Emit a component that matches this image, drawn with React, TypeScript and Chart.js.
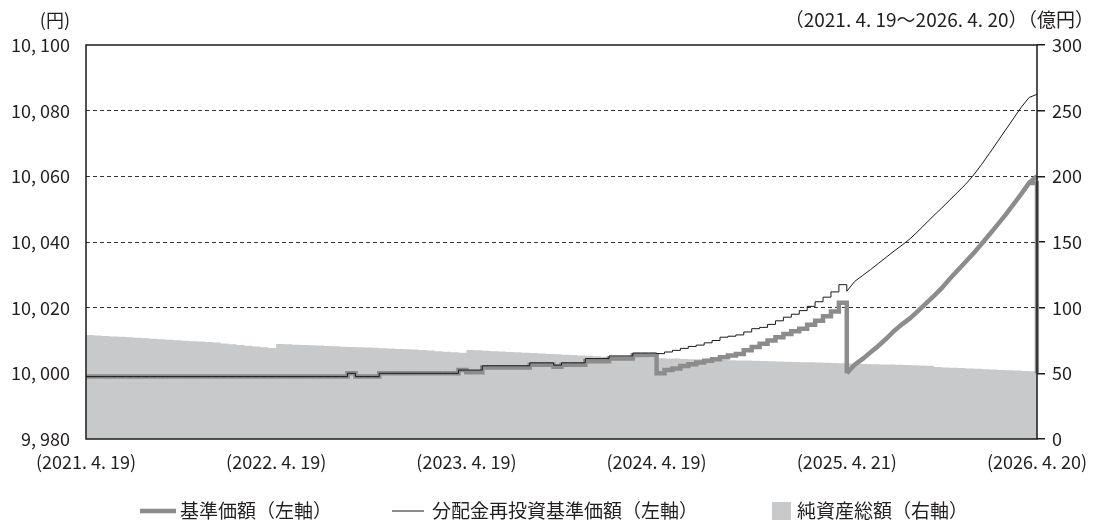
import React, { useEffect, useRef } from 'react';
import { Chart, registerables } from 'chart.js';

Chart.register(...registerables);

const FONT = "'Noto Sans CJK JP', 'Noto Sans', sans-serif";
const TEXT = '#231f20';

// semi-monthly categories from 2021-04-19 to 2026-04-20 (121 points)
const categories: string[] = Array.from({ length: 121 }, (_, i) => {
  const m = Math.floor(i / 2) + 3;
  const y = 2021 + Math.floor(m / 12);
  const mo = (m % 12) + 1;
  return `${y}/${mo}${i % 2 === 0 ? '前半' : '後半'}`;
});

const xTickLabels = ['(2021. 4. 19)', '(2022. 4. 19)', '(2023. 4. 19)', '(2024. 4. 19)', '(2025. 4. 21)', '(2026. 4. 20)'];

// index of the 2025.4.21 settlement (after it the daily movement is almost continuous)
const SPLIT = 96;

// 基準価額（円）
const navBase: number[] = [
  9999, 9999, 9999, 9999, 9999, 9999, 9999, 9999, 9999, 9999, 9999, 9999, 9999, 9999, 9999, 9999,
  9999, 9999, 9999, 9999, 9999, 9999, 9999, 9999, 9999, 9999, 9999, 9999, 9999, 9999, 9999, 9999,
  9999, 10000, 9999, 9999, 9999,
  10000, 10000, 10000, 10000, 10000, 10000, 10000, 10000, 10000, 10000,
  10001, 10000.3, 10000.3,
  10001.8, 10001.8, 10001.8, 10001.8, 10001.8, 10001.8,
  10002.6, 10002.6, 10002.6, 10002.0, 10002.6, 10002.6, 10002.6,
  10003.7, 10003.7, 10003.7, 10004.5, 10004.5, 10004.5, 10005.5, 10005.5, 10005.5,
  10000.0, 10001.0, 10001.5, 10002.2, 10002.8, 10003.3, 10003.8, 10004.3, 10004.9, 10005.4,
  10005.9, 10007.0, 10008.0, 10009.0, 10010.0, 10011.0, 10012.0, 10012.8, 10013.6, 10014.8,
  10016.0, 10017.4, 10018.8, 10021.5,
  10000.0, 10002.6, 10004.4, 10006.4, 10008.4, 10010.6, 10013.0, 10015.0, 10016.8, 10019.0,
  10021.3, 10023.6, 10026.0, 10028.8, 10031.4, 10034.0, 10036.6, 10039.4, 10042.3, 10045.2,
  10048.2, 10051.4, 10054.6, 10058.0,
  10060.0,
];

// 基準価額 on 2026.4.20 after the settlement
const navBaseFinal = 10000.0;

// 分配金再投資基準価額（円）
const navReinvest: number[] = [
  9999, 9999, 9999, 9999, 9999, 9999, 9999, 9999, 9999, 9999, 9999, 9999, 9999, 9999, 9999, 9999,
  9999, 9999, 9999, 9999, 9999, 9999, 9999, 9999, 9999, 9999, 9999, 9999, 9999, 9999, 9999, 9999,
  9999, 10000, 9999, 9999, 9999,
  10000, 10000, 10000, 10000, 10000, 10000, 10000, 10000, 10000, 10000,
  10001, 10001, 10001,
  10002.3, 10002.3, 10002.3, 10002.3, 10002.3, 10002.3,
  10003.2, 10003.2, 10003.2, 10002.5, 10003.2, 10003.2, 10003.2,
  10004.5, 10004.5, 10004.5, 10005.3, 10005.3, 10005.3, 10006.2, 10006.2, 10006.2,
  10006.0, 10006.5, 10007.0, 10007.6, 10008.2, 10008.6, 10009.3, 10010.0, 10011.0, 10011.3,
  10011.7, 10012.6, 10013.6, 10014.0, 10014.9, 10016.0, 10017.1, 10018.0, 10019.1, 10020.4,
  10021.8, 10023.2, 10024.8, 10027.0,
  10025.0, 10028.0, 10029.8, 10031.6, 10033.5, 10035.4, 10037.3, 10039.1, 10041.0, 10043.3,
  10045.7, 10048.1, 10050.4, 10052.8, 10055.2, 10057.6, 10060.4, 10063.6, 10067.0, 10070.5,
  10074.0, 10077.5, 10081.0, 10084.0,
  10085.0,
];

// 純資産総額（億円）
const netAssets: number[] = [
  79.2, 78.8, 78.5, 78.1, 77.8, 77.4, 77.0, 76.7, 76.3, 76.0, 75.6, 75.2, 74.9, 74.5, 74.2, 73.8, 73.4,
  72.8, 72.2, 71.6, 71.0, 70.4, 69.8, 69.2,
  72.3, 72.1, 71.8, 71.6, 71.3, 71.1, 70.8, 70.6, 70.3, 70.1, 69.9, 69.6, 69.4, 69.1, 68.9, 68.6, 68.4,
  68.1, 67.7, 67.3, 66.9, 66.5, 66.1, 65.6,
  67.8, 67.5, 67.2, 66.9, 66.6, 66.3, 66.0, 65.7, 65.4, 65.1, 64.8, 64.5, 64.2, 63.9, 63.6, 63.3, 63.0, 62.7,
  62.5, 62.3, 62.2, 62.0, 61.8, 61.7, 61.5, 61.3, 61.2, 61.0, 60.8, 60.7, 60.5, 60.3, 60.2, 60.0, 59.8,
  59.7, 59.5, 59.3, 59.2, 59.0, 58.9,
  58.7, 58.5, 58.4, 58.2, 58.0, 57.8, 57.7, 57.5, 57.3, 57.2, 57.0, 56.8, 56.7, 56.5, 56.3,
  56.1, 55.9, 55.7, 54.8,
  54.5, 54.2, 54.0, 53.7, 53.4, 53.1, 52.9, 52.6, 52.3, 52.1, 51.8, 51.5, 51.3,
];

const leftUnit = '(円)';
const rightTitle = '（2021. 4. 19～2026. 4. 20）（億円）';

const GRAY_LINE = '#8c8c8c';
const AREA = '#c8c9cb';
const BLACK = '#1a1a1a';

const decorPlugin = {
  id: 'decor',
  afterDatasetsDraw(chart: any) {
    const { ctx, chartArea: a } = chart;
    ctx.save();
    ctx.strokeStyle = BLACK;
    ctx.lineWidth = 1.5;
    ctx.strokeRect(a.left, a.top, a.right - a.left, a.bottom - a.top);
    ctx.restore();
  },
  afterDraw(chart: any) {
    const { ctx } = chart;
    const ds = chart.data.datasets;
    ctx.save();
    ctx.fillStyle = TEXT;
    ctx.textBaseline = 'middle';
    ctx.textAlign = 'right';
    ctx.font = `18px ${FONT}`;
    ctx.fillText(leftUnit, 70, 20);
    ctx.font = `19px ${FONT}`;
    ctx.fillText(rightTitle, 1094, 20);

    // legend
    const ly = 511;
    ctx.font = `19px ${FONT}`;
    ctx.textAlign = 'left';
    ctx.strokeStyle = GRAY_LINE;
    ctx.lineWidth = 4.5;
    ctx.beginPath();
    ctx.moveTo(140, ly);
    ctx.lineTo(176, ly);
    ctx.stroke();
    ctx.fillText(ds[0].label, 180, ly);

    ctx.strokeStyle = BLACK;
    ctx.lineWidth = 1;
    ctx.beginPath();
    ctx.moveTo(392, ly);
    ctx.lineTo(424, ly);
    ctx.stroke();
    ctx.fillText(ds[2].label, 432, ly);

    ctx.fillStyle = AREA;
    ctx.fillRect(772, ly - 9, 19, 18);
    ctx.fillStyle = TEXT;
    ctx.fillText(ds[4].label, 797, ly);
    ctx.restore();
  },
};

const upTo = (arr: number[], n: number) => arr.map((v, i) => (i <= n ? v : null));
const from = (arr: number[], n: number) => arr.map((v, i) => (i >= n ? v : null));

export default function App() {
  const ref = useRef<HTMLCanvasElement | null>(null);

  useEffect(() => {
    if (!ref.current) return;
    const lineBase = { pointRadius: 0, fill: false, spanGaps: false };
    const last = navBase.length - 1;
    // settlement drop on the last date: hold the previous value, then straight down to the post-settlement price
    const settlement = navBase.map((v, i) => (i === last - 1 ? navBase[last - 1] : i === last ? navBaseFinal : null));
    const chart = new Chart(ref.current, {
      type: 'line',
      data: {
        labels: categories,
        datasets: [
          {
            label: '基準価額（左軸）',
            data: upTo(navBase, SPLIT),
            yAxisID: 'y',
            borderColor: GRAY_LINE,
            borderWidth: 4.5,
            stepped: 'before',
            order: 2,
            ...lineBase,
          },
          {
            label: '基準価額（左軸）後半',
            data: from(navBase, SPLIT),
            yAxisID: 'y',
            borderColor: GRAY_LINE,
            borderWidth: 4.5,
            order: 2,
            ...lineBase,
          },
          {
            label: '分配金再投資基準価額（左軸）',
            data: upTo(navReinvest, SPLIT),
            yAxisID: 'y',
            borderColor: BLACK,
            borderWidth: 1,
            stepped: 'before',
            order: 1,
            ...lineBase,
          },
          {
            label: '分配金再投資基準価額（左軸）後半',
            data: from(navReinvest, SPLIT),
            yAxisID: 'y',
            borderColor: BLACK,
            borderWidth: 1,
            order: 1,
            ...lineBase,
          },
          {
            label: '純資産総額（右軸）',
            data: netAssets,
            yAxisID: 'y1',
            borderColor: 'rgba(0,0,0,0)',
            backgroundColor: AREA,
            borderWidth: 0,
            stepped: 'before',
            pointRadius: 0,
            fill: 'origin',
            order: 3,
          },
          {
            label: '基準価額（左軸）決算',
            data: settlement,
            yAxisID: 'y',
            borderColor: GRAY_LINE,
            borderWidth: 4.5,
            stepped: 'before',
            order: 2,
            ...lineBase,
          },
        ],
      },
      options: {
        responsive: false,
        animation: false,
        devicePixelRatio: 1,
        layout: { padding: { top: 45, left: 0, right: 0, bottom: 0 } },
        plugins: {
          legend: { display: false },
          tooltip: { enabled: false },
        },
        scales: {
          x: {
            type: 'category',
            offset: false,
            grid: { display: false, drawTicks: false },
            border: { display: false },
            ticks: {
              autoSkip: false,
              maxRotation: 0,
              minRotation: 0,
              padding: 12,
              color: TEXT,
              font: { family: FONT, size: 18 },
              callback: (_v: any, index: number) => (index % 24 === 0 ? xTickLabels[index / 24] : ''),
            },
            afterFit: (s: any) => {
              s.height = 83;
              s.paddingLeft = 0;
              s.paddingRight = 0;
            },
          },
          y: {
            position: 'left',
            min: 9980,
            max: 10100,
            grid: {
              drawTicks: false,
              lineWidth: 1,
              color: (c: any) =>
                c.tick && (c.tick.value === 10100 || c.tick.value === 9980) ? 'rgba(0,0,0,0)' : '#333333',
            },
            border: { display: false, dash: [4, 3] },
            ticks: {
              stepSize: 20,
              padding: 16,
              color: TEXT,
              font: { family: FONT, size: 18 },
              callback: (v: any) => `${Math.floor(v / 1000)}, ${String(v % 1000).padStart(3, '0')}`,
            },
            afterFit: (s: any) => { s.width = 86; },
          },
          y1: {
            position: 'right',
            min: 0,
            max: 300,
            grid: {
              drawOnChartArea: false,
              drawTicks: true,
              tickLength: 8,
              color: BLACK,
              lineWidth: 1.5,
            },
            border: { display: false },
            ticks: {
              stepSize: 50,
              padding: 7,
              color: TEXT,
              font: { family: FONT, size: 18 },
            },
            afterFit: (s: any) => { s.width = 57; },
          },
        },
      },
      plugins: [decorPlugin],
    });
    return () => chart.destroy();
  }, []);

  return (
    <div style={{ position: 'absolute', left: 0, top: 0, width: 1094, height: 522, background: '#fff' }}>
      <canvas ref={ref} width={1094} height={522} />
    </div>
  );
}
